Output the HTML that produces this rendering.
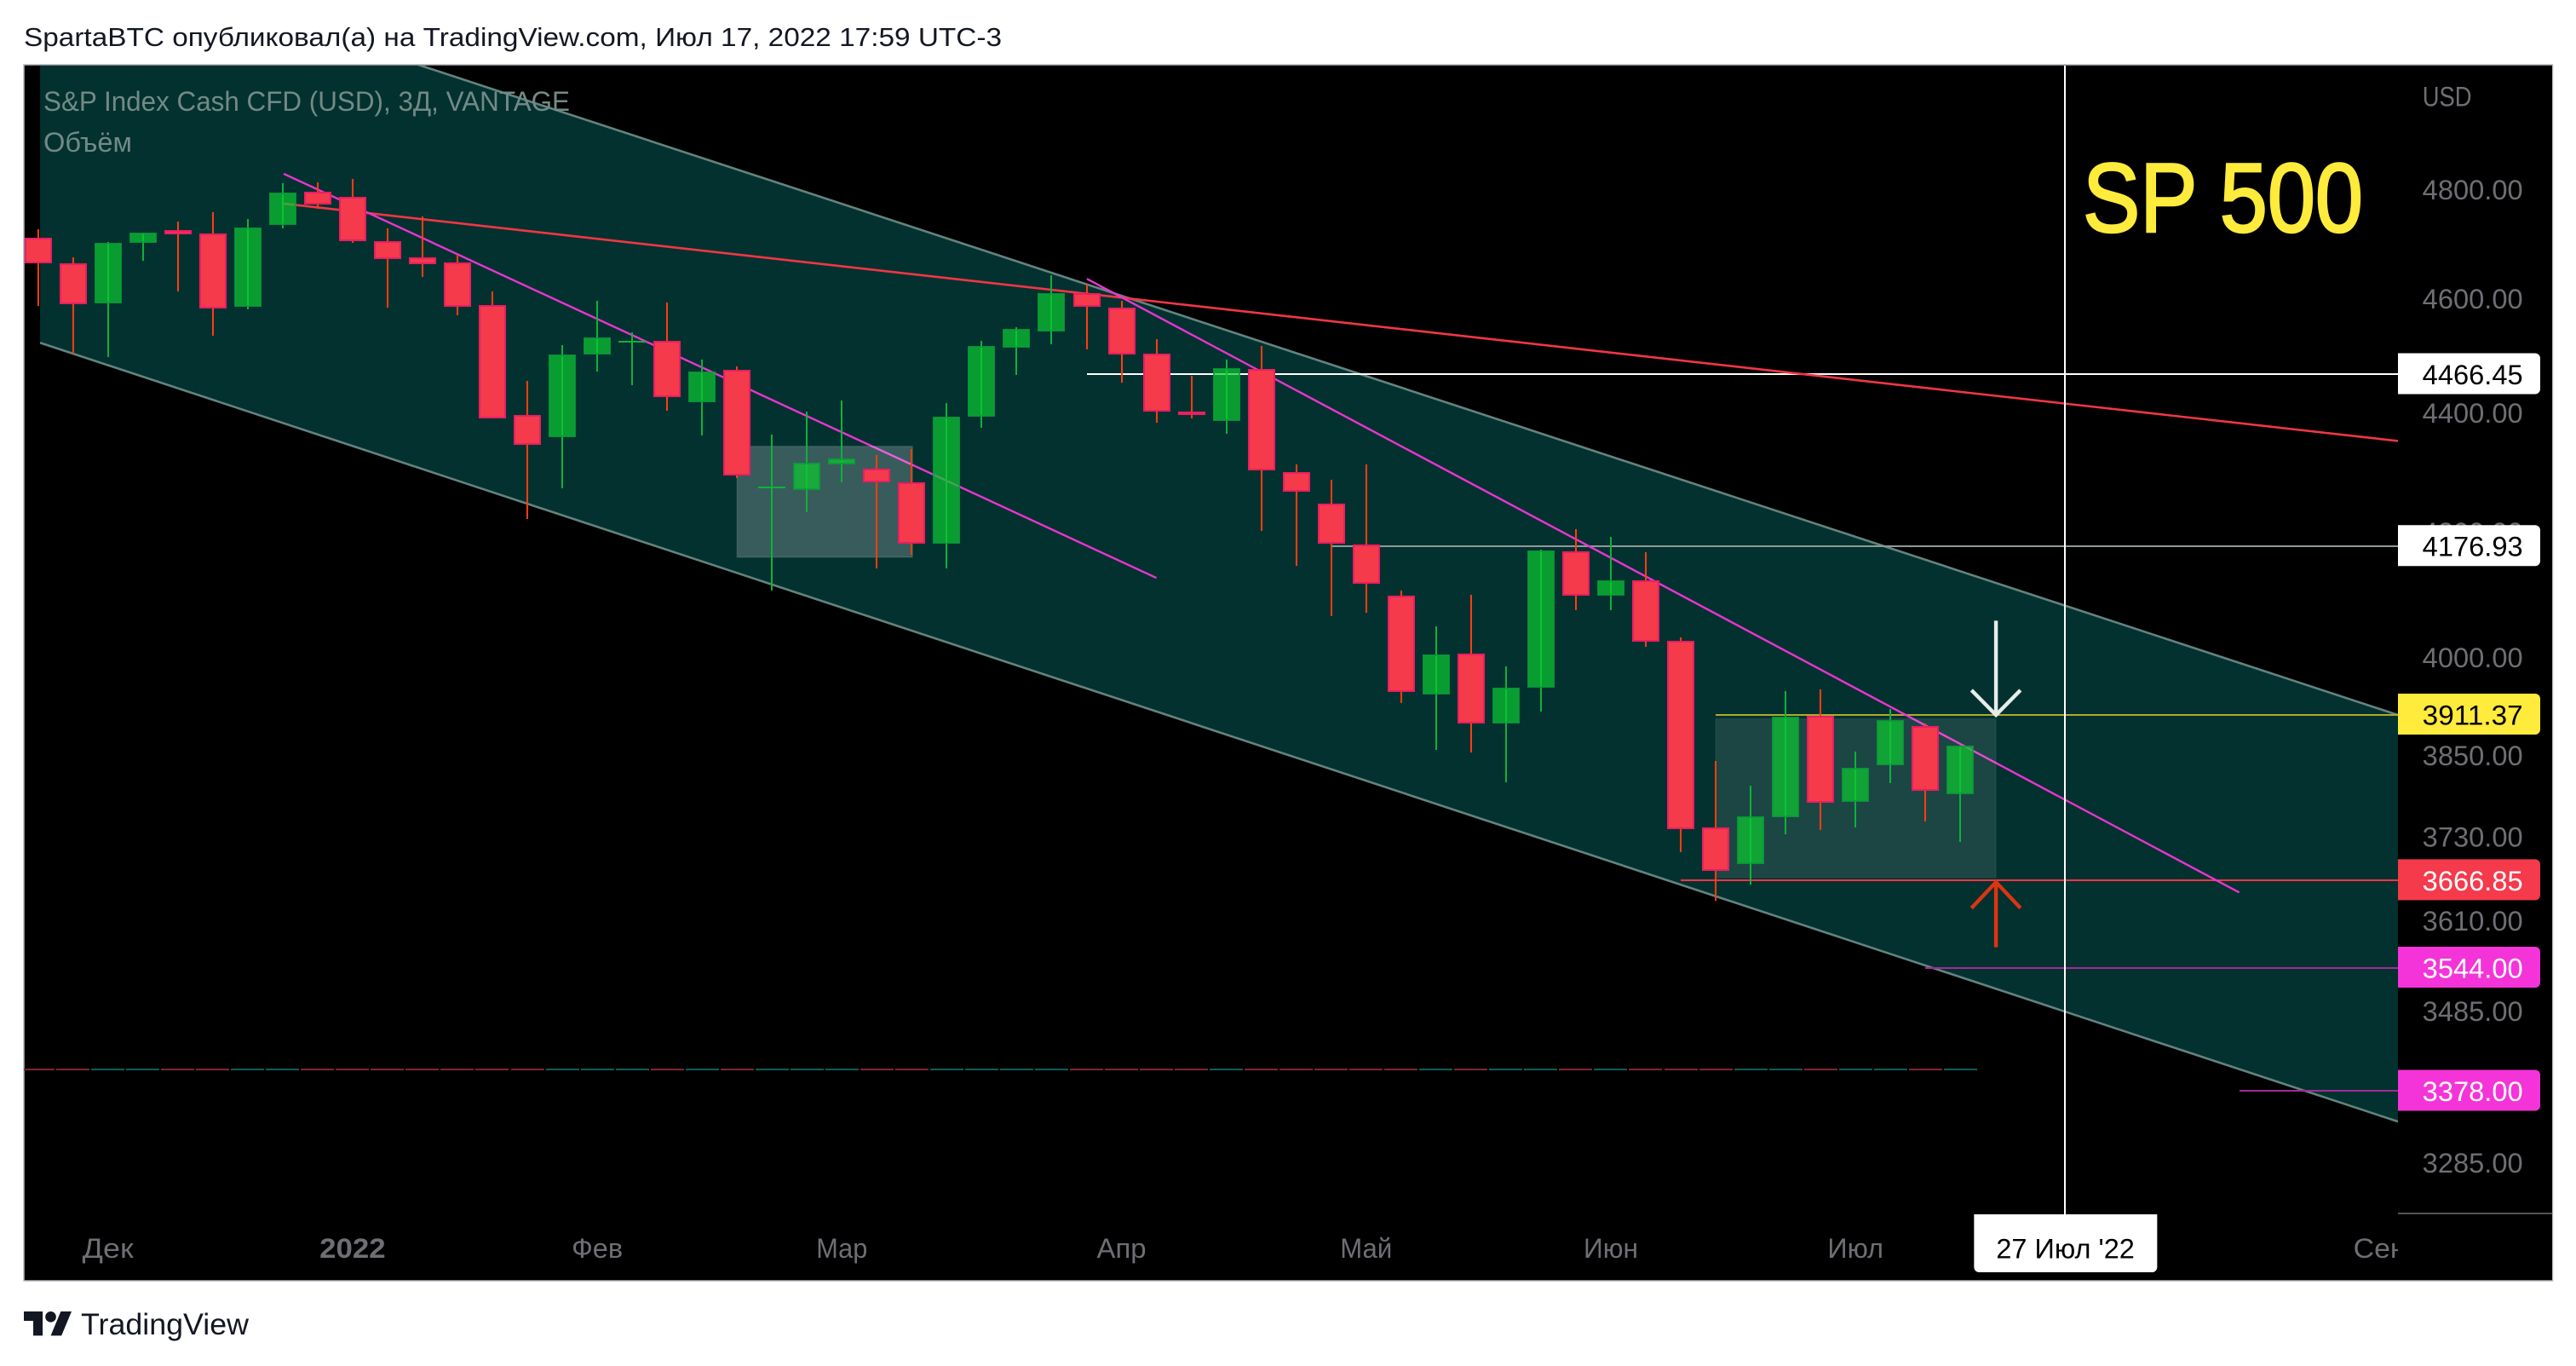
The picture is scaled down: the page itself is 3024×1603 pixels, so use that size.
<!DOCTYPE html>
<html lang="ru">
<head>
<meta charset="utf-8">
<title>SP 500 chart</title>
<style>
html,body{margin:0;padding:0;background:#fff;}
svg{display:block;}
text{font-family:"Liberation Sans","DejaVu Sans",sans-serif;}
</style>
</head>
<body>
<svg id="chart" xmlns="http://www.w3.org/2000/svg" width="3024" height="1603" viewBox="0 0 3024 1603">
  <defs>
    <clipPath id="plot-clip"><rect x="28" y="77" width="2787" height="1348"/></clipPath>
    <clipPath id="frame-clip"><rect x="28" y="77" width="2968" height="1425"/></clipPath>
  </defs>
  <rect x="0" y="0" width="3024" height="1603" fill="#ffffff"/>
  <text x="28" y="54" font-size="31" fill="#131722" textLength="1148" lengthAdjust="spacingAndGlyphs">SpartaBTC опубликовал(а) на TradingView.com, Июл 17, 2022 17:59 UTC-3</text>
  <rect x="28" y="76" width="2968.5" height="1427" fill="#000000" stroke="#b4b7be" stroke-width="1.5"/>
  <g id="plot" clip-path="url(#plot-clip)"></g>
  <g id="axes" clip-path="url(#frame-clip)"></g>
  <g transform="translate(28,1532.7) scale(1.577)">
    <path fill="#131722" d="M14 22H7V11H0V4h14v18zM28 22h-8l7.5-18h8L28 22z"/>
    <circle cx="20" cy="8" r="4" fill="#131722"/>
  </g>
  <text x="95" y="1566" font-size="35" fill="#131722" textLength="197" lengthAdjust="spacingAndGlyphs">TradingView</text>
</svg>
<script>
// ---- candle data (prices, USD) ----
const opens  = [4711,4664,4592,4701,4725,4718,4586,4734,4796,4786,4704,4675,4666,4589,4396,4358,4502,4523,4526,4419,4474,4272,4270,4313,4306,4282,4182,4394,4514,4542,4611,4584,4503,4403,4386,4476,4300,4247,4180,4097,3943,4006,3899,3953,4169,4098,4122,4026,3744,3690,3758,3910,3781,3836,3895,3793];
const highs  = [4727,4675,4703,4720,4740,4758,4746,4812,4814,4820,4728,4750,4680,4613,4456,4518,4596,4541,4594,4492,4481,4363,4403,4422,4329,4339,4417,4526,4550,4642,4625,4597,4528,4464,4493,4516,4313,4287,4312,4106,4049,4099,3986,4172,4205,4192,4167,4031,3842,3805,3948,3951,3856,3921,3898,3865];
const lows   = [4587,4503,4497,4669,4613,4535,4581,4728,4764,4702,4584,4639,4570,4390,4222,4272,4471,4448,4404,4362,4290,4106,4233,4283,4142,4164,4142,4375,4466,4519,4511,4453,4384,4391,4364,4203,4145,4065,4070,3930,3859,3855,3810,3917,4075,4075,4017,3708,3638,3661,3734,3740,3744,3809,3752,3723];
const closes = [4664,4590,4702,4720,4717,4583,4730,4795,4773,4704,4672,4662,4586,4390,4346,4501,4531,4526,4427,4472,4294,4275,4315,4323,4282,4182,4394,4516,4546,4611,4586,4502,4402,4396,4478,4302,4267,4181,4117,3947,4005,3899,3953,4170,4098,4122,4025,3741,3681,3760,3909,3780,3832,3904,3797,3865];
const volumes = [1,1,1,1,1,1,1,1,1,1,1,1,1,1,1,1,1,1,1,1,1,1,1,1,1,1,1,1,1,1,1,1,1,1,1,1,1,1,1,1,1,1,1,1,1,1,1,1,1,1,1,1,1,1,1,1];

// ---- axis labels ----
const priceTicks = [4800,4600,4400,4200,4000,3850,3730,3610,3485,3285];
const timeLabels = ['Дек','2022','Фев','Мар','Апр','Май','Июн','Июл','Сен'];
const timeBars   = [2,9,16,23,31,38,45,52,67];

// ---- horizontal levels (price, first bar) ----
const levelPrices = [4466.45,4176.93,3911.37,3666.85,3544.00,3378.00];
const levelStarts = [30,37,48,47,54,63];

// ---- drawings (bar index, price) ----
const channelBars = [0.06,67.52];
const channelUpper = [5289.5,3911.4];
const channelLower = [4522,3338.2];
const redLineBars = [7.03,67.52];
const redLinePrices = [4774,4352.2];
const magentaABars = [7.03,32];
const magentaAPrices = [4829.9,4126];
const magentaBBars = [30.01,62.98];
const magentaBPrices = [4636.1,3649.9];
const boxABars = [20,25.02];
const boxAPrices = [4343.2,4159.3];
const boxBBars = [48,56.02];
const boxBPrices = [3905.6,3671.2];
const arrowBar = 56.02;
const arrowHalfBars = 0.7;
const whiteArrowPrices = [4057.8,3911.4,3949.3];
const redArrowPrices = [3572.9,3664.7,3627.8];
const crosshairBar = 58;
const crosshairLabel = "27 Июл '22";

// ---- axis functions ----
function xAt(bar){ return 44.6 + 41.03 * bar; }
function yAt(price){ return 222.6 + 3011 * Math.log(4800 / price); }
function volH(v){ return 2 * v; }

const NS = 'http://www.w3.org/2000/svg';
const plot = document.getElementById('plot');
const axes = document.getElementById('axes');
function mk(parent, tag, attrs, txt){
  const el = document.createElementNS(NS, tag);
  for (const k in attrs) el.setAttribute(k, attrs[k]);
  if (txt !== undefined) el.textContent = txt;
  parent.appendChild(el);
  return el;
}
let el;

// channel fill and borders
el = mk(plot,'polygon',{points:[
  xAt(channelBars[0])+','+yAt(channelUpper[0]),
  xAt(channelBars[1])+','+yAt(channelUpper[1]),
  xAt(channelBars[1])+','+yAt(channelLower[1]),
  xAt(channelBars[0])+','+yAt(channelLower[0])].join(' '),fill:'#03312f'});


el = mk(plot,'line',{x1:xAt(channelBars[0]),y1:yAt(channelUpper[0]),x2:xAt(channelBars[1]),y2:yAt(channelUpper[1]),stroke:'#64837f','stroke-width':2.6});


el = mk(plot,'line',{x1:xAt(channelBars[0]),y1:yAt(channelLower[0]),x2:xAt(channelBars[1]),y2:yAt(channelLower[1]),stroke:'#64837f','stroke-width':2.6});



// horizontal levels
const levelLine = ['#ffffff','#8f9a98','#b3a92b','#f23645','#a22b97','#a22b97'];
levelPrices.forEach(function(p,i){
  const y = Math.round(yAt(p));
  const line = mk(plot,'line',{x1:Math.round(xAt(levelStarts[i])),y1:y,x2:2815,y2:y,stroke:levelLine[i],'stroke-width':2,'shape-rendering':'crispEdges'});
  
  
});

// trend lines
el = mk(plot,'line',{x1:xAt(redLineBars[0]),y1:yAt(redLinePrices[0]),x2:xAt(redLineBars[1]),y2:yAt(redLinePrices[1]),stroke:'#f23645','stroke-width':2.6});


el = mk(plot,'line',{x1:xAt(magentaABars[0]),y1:yAt(magentaAPrices[0]),x2:xAt(magentaABars[1]),y2:yAt(magentaAPrices[1]),stroke:'#ea35d0','stroke-width':2.4});


el = mk(plot,'line',{x1:xAt(magentaBBars[0]),y1:yAt(magentaBPrices[0]),x2:xAt(magentaBBars[1]),y2:yAt(magentaBPrices[1]),stroke:'#ea35d0','stroke-width':2.4});



// range boxes (over the lines, under the candles)
el = mk(plot,'rect',{x:xAt(boxABars[0]),y:yAt(boxAPrices[0]),width:xAt(boxABars[1])-xAt(boxABars[0]),height:yAt(boxAPrices[1])-yAt(boxAPrices[0]),fill:'#ffffff','fill-opacity':0.21,stroke:'#ffffff','stroke-opacity':0.1,'stroke-width':1.5});


el = mk(plot,'rect',{x:xAt(boxBBars[0]),y:yAt(boxBPrices[0]),width:xAt(boxBBars[1])-xAt(boxBBars[0]),height:yAt(boxBPrices[1])-yAt(boxBPrices[0]),fill:'#ffffff','fill-opacity':0.1,stroke:'#ffffff','stroke-opacity':0.05,'stroke-width':1.5});



// volume strip
volumes.forEach(function(v,i){
  const up = closes[i] >= opens[i];
  const bar = mk(plot,'rect',{x:Math.round(xAt(i)-19.5),y:1256-volH(v),width:39,height:volH(v),fill:up?'#0e5f57':'#7f2729'});
  
  
});

// candles
opens.forEach(function(o,i){
  const c = closes[i], up = c >= o, cx = Math.round(xAt(i));
  const top = Math.round(yAt(Math.max(o,c))), bot = Math.round(yAt(Math.min(o,c)));
  const wt = Math.round(yAt(highs[i])), wb = Math.round(yAt(lows[i]));
  const wick = mk(plot,'rect',{x:cx-1,y:wt,width:2,height:Math.max(0,wb-wt),fill:up?'#0db23a':'#ff3d12'});
  
  
  const h = bot - top;
  let body;
  if (h < 4) {
    body = mk(plot,'rect',{x:cx-16,y:Math.round((top+bot)/2)-1,width:32,height:2,fill:up?'#0db23a':'#e91e63'});
  } else {
    body = mk(plot,'rect',{x:cx-15,y:top+1,width:30,height:h-2,fill:up?'#0dca31':'#f53a4b','fill-opacity':up?0.7:1,stroke:up?'#0a9e38':'#e91e63','stroke-opacity':up?0.85:1,'stroke-width':2});
  }
  
  
});

// arrows
function arrow(prices,color,name){
  const g = mk(plot,'g',{fill:'none',stroke:color,'stroke-width':4.4});
  
  
  const x = xAt(arrowBar);
  mk(g,'line',{x1:x,y1:yAt(prices[0]),x2:x,y2:yAt(prices[1])});
  mk(g,'polyline',{points:xAt(arrowBar-arrowHalfBars)+','+yAt(prices[2])+' '+x+','+yAt(prices[1])+' '+xAt(arrowBar+arrowHalfBars)+','+yAt(prices[2])});
}
arrow(whiteArrowPrices,'#e8edea','resistance-arrow-white');
arrow(redArrowPrices,'#dd3411','support-arrow-red');

// crosshair
const crossX = Math.round(xAt(crosshairBar));
el = mk(plot,'line',{x1:crossX,y1:77,x2:crossX,y2:1425,stroke:'#ffffff','stroke-width':2,'shape-rendering':'crispEdges'});



// legend + annotation
el = mk(plot,'text',{x:51,y:130,'font-size':32,fill:'#728a87',textLength:618,lengthAdjust:'spacingAndGlyphs'},'S&P Index Cash CFD (USD), 3Д, VANTAGE');


el = mk(plot,'text',{x:51,y:178,'font-size':32,fill:'#728a87',textLength:104,lengthAdjust:'spacingAndGlyphs'},'Объём');


el = mk(plot,'text',{x:2445,y:272,'font-size':115,fill:'#ffeb3b',stroke:'#ffeb3b','stroke-width':2.5,textLength:329,lengthAdjust:'spacingAndGlyphs'},'SP 500');



// time axis labels
const timeWidths = [60,77.5,60,60,58,61,64,65.6,62];
timeLabels.forEach(function(t,i){
  const label = mk(axes,'text',{x:xAt(timeBars[i])-timeWidths[i]/2,y:1476,'font-size':32,fill:'#6e6f74','font-weight':t==='2022'?'bold':'normal',textLength:timeWidths[i],lengthAdjust:'spacingAndGlyphs'},t);
  
  
});

// crosshair date tag
const cx0 = xAt(crosshairBar);
el = mk(axes,'path',{d:'M'+(cx0-107)+' 1425H'+(cx0+108)+'V1487a6 6 0 0 1 -6 6H'+(cx0-101)+'a6 6 0 0 1 -6 -6Z',fill:'#ffffff'});


el = mk(axes,'text',{x:cx0-81,y:1476.5,'font-size':32,fill:'#000000',textLength:162.5,lengthAdjust:'spacingAndGlyphs'},crosshairLabel);



// price axis
el = mk(axes,'rect',{x:2815,y:77,width:181,height:1425,fill:'#000000'});


el = mk(axes,'line',{x1:2815,y1:1424,x2:2996,y2:1424,stroke:'#6d6f75','stroke-width':1.5});


el = mk(axes,'text',{x:2843.7,y:124.3,'font-size':32,fill:'#6e6f74',textLength:57.8,lengthAdjust:'spacingAndGlyphs'},'USD');


priceTicks.forEach(function(p){
  const label = mk(axes,'text',{x:2843.7,y:yAt(p)+11.5,'font-size':32,fill:'#6e6f74',textLength:118,lengthAdjust:'spacingAndGlyphs'},p.toFixed(2));
  
  
});

// price tags
const tagFill = ['#ffffff','#ffffff','#ffeb3b','#f53a4b','#f434d8','#f434d8'];
const tagText = ['#000000','#000000','#000000','#ffffff','#ffffff','#ffffff'];
levelPrices.forEach(function(p,i){
  const y = yAt(p) - 1;
  const tag = mk(axes,'path',{d:'M2815 '+(y-24)+'H2976a6 6 0 0 1 6 6V'+(y+18)+'a6 6 0 0 1 -6 6H2815Z',fill:tagFill[i]});
  
  
  const label = mk(axes,'text',{x:2843.7,y:y+12.5,'font-size':32,fill:tagText[i],textLength:118,lengthAdjust:'spacingAndGlyphs'},p.toFixed(2));
  
  
});
</script>
</body>
</html>
